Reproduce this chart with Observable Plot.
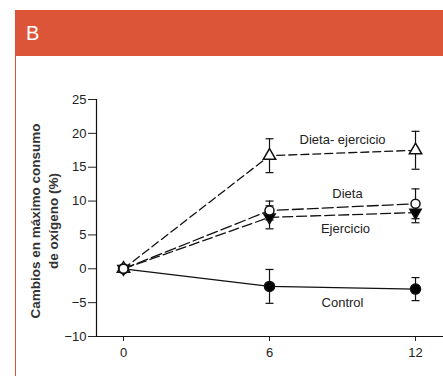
<!DOCTYPE html>
<html>
<head>
<meta charset="utf-8">
<script src="https://cdn.jsdelivr.net/npm/d3@7"></script>
<script src="https://cdn.jsdelivr.net/npm/@observablehq/plot@0.6"></script>
<style>
  html, body { margin: 0; padding: 0; background: #fff; }
  #wrap { position: relative; width: 443px; height: 376px; overflow: hidden; font-family: "Liberation Sans", Arial, sans-serif; }
  #header { position: absolute; left: 15px; top: 10px; width: 428px; height: 46px; background: #dc5539; }
  #header span { position: absolute; left: 11px; top: 11px; color: #fff; font-size: 20px; line-height: 24px; }
  #panel { position: absolute; left: 15px; top: 56px; width: 428px; height: 320px; border-left: 1.5px solid #dc5539; box-sizing: border-box; }
  #chart { position: absolute; left: 16px; top: 56px; }
  #chart svg { overflow: visible; }
</style>
</head>
<body>
<div id="wrap">
  <div id="header"><span>B</span></div>
  <div id="panel"></div>
  <div id="chart"></div>
</div>
<script>
// Data (months on x, % change on y)
const months = [0, 6, 12];
const seriesNames = ["Dieta- ejercicio", "Dieta", "Ejercicio", "Control"];
const dietaEjercicio = [0, 16.7, 17.5];
const dietaEjercicioErr = [0, 2.5, 2.8];
const dieta = [0, 8.6, 9.6];
const dietaErr = [0, 1.4, 2.2];
const ejercicio = [0, 7.6, 8.3];
const ejercicioErr = [0, 1.7, 1.5];
const control = [0, -2.6, -3.0];
const controlErr = [0, 2.5, 1.7];
const yTicks = [-10, -5, 0, 5, 10, 15, 20, 25];
const xTicks = [0, 6, 12];

const values = [dietaEjercicio, dieta, ejercicio, control];
const errs = [dietaEjercicioErr, dietaErr, ejercicioErr, controlErr];
const style = {
  "Dieta- ejercicio": {symbol: "triangle", fill: "white", rotate: 0, r: 4.6, dash: "8,4", ldx: 0, ldy: -13},
  "Dieta": {symbol: "circle", fill: "white", rotate: 0, r: 4.5, dash: "11,4", ldx: 5, ldy: -13},
  "Ejercicio": {symbol: "triangle", fill: "black", rotate: 180, r: 4.2, dash: "10,4", ldx: 3, ldy: 14},
  "Control": {symbol: "circle", fill: "black", rotate: 0, r: 5, dash: null, ldx: 0, ldy: 15}
};

const rows = [];
seriesNames.forEach((s, i) => months.forEach((m, j) => rows.push({series: s, x: m, y: values[i][j], e: errs[i][j]})));
const errRows = rows.filter(d => d.e > 0);
const labels = seriesNames.map((s, i) => ({series: s, x: (months[1] + months[2]) / 2, y: (values[i][1] + values[i][2]) / 2}));

const cap = { draw(ctx, size) { const w = 4; ctx.moveTo(-w, 0); ctx.lineTo(w, 0); } };
const xDomain = [-1.11, 13.15];
const yDomain = [-10, 25];

const marks = [
  Plot.ruleX([xDomain[0]], {y1: yDomain[0], y2: yDomain[1], stroke: "#111", strokeWidth: 1.2}),
  Plot.ruleY([yDomain[0]], {stroke: "#111", strokeWidth: 1.2}),
];
seriesNames.forEach(s => {
  const st = style[s];
  const d = rows.filter(r => r.series === s);
  marks.push(Plot.line(d, {x: "x", y: "y", stroke: "#111", strokeWidth: 1.3, strokeDasharray: st.dash || undefined}));
});
marks.push(Plot.ruleX(errRows, {x: "x", y1: d => d.y - d.e, y2: d => d.y + d.e, stroke: "#111", strokeWidth: 1.2}));
marks.push(Plot.dot(errRows, {x: "x", y: d => d.y + d.e, symbol: cap, stroke: "#111", strokeWidth: 1.2, r: 4}));
marks.push(Plot.dot(errRows, {x: "x", y: d => d.y - d.e, symbol: cap, stroke: "#111", strokeWidth: 1.2, r: 4}));
["Control", "Ejercicio", "Dieta- ejercicio", "Dieta"].forEach(s => {
  const st = style[s];
  const d = rows.filter(r => r.series === s);
  marks.push(Plot.dot(d, {x: "x", y: "y", symbol: st.symbol, r: st.r, fill: st.fill, stroke: "#111", strokeWidth: 1.5, rotate: st.rotate}));
});
labels.forEach(l => {
  const st = style[l.series];
  marks.push(Plot.text([l], {x: "x", y: "y", text: "series", dx: st.ldx, dy: st.ldy, fill: "#222", fontSize: 13}));
});
marks.push(Plot.text(["Cambios en máximo consumo"], {frameAnchor: "left", textAnchor: "middle", rotate: -90, dx: -61, dy: 3, fontWeight: "bold", fontSize: 13.5, fill: "#333"}));
marks.push(Plot.text(["de oxígeno (%)"], {frameAnchor: "left", textAnchor: "middle", rotate: -90, dx: -43, dy: 3, fontWeight: "bold", fontSize: 13.5, fill: "#333"}));

const chart = Plot.plot({
  width: 427,
  height: 320,
  marginLeft: 80,
  marginRight: 0,
  marginTop: 43,
  marginBottom: 40,
  style: {fontFamily: "Liberation Sans, Arial, sans-serif", fontSize: "13px", color: "#222", background: "transparent"},
  x: {domain: xDomain, ticks: xTicks, tickSize: 5, tickPadding: 6, label: null},
  y: {domain: yDomain, ticks: yTicks, tickSize: 8, tickPadding: 2, label: null},
  marks
});
document.getElementById("chart").appendChild(chart);
</script>
</body>
</html>
